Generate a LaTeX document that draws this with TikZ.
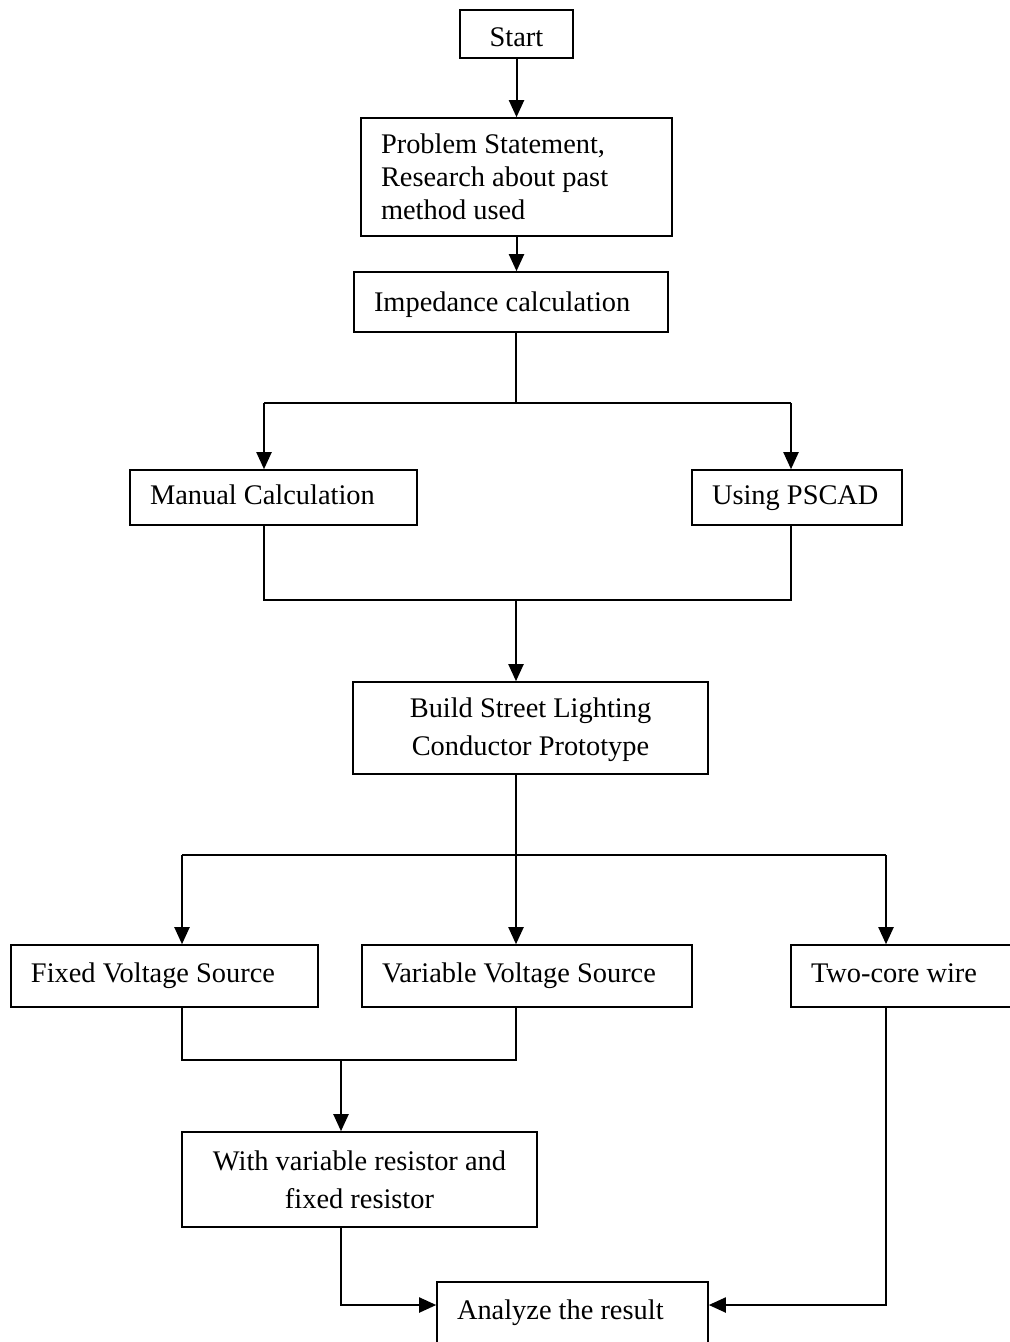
\documentclass[tikz,border=0pt]{standalone}
\usepackage{fontspec}
\setmainfont{Liberation Serif}
\usetikzlibrary{arrows.meta}

\tikzset{
  stage/.style={draw, line width=0.8pt, inner xsep=10pt, inner ysep=0pt,
    align=flush left, font=\fontsize{14.2}{16.5}\selectfont},
  oneline/.style={stage, text height=9.7pt, text depth=3.1pt},
  midstage/.style={stage, align=flush center, font=\fontsize{14.2}{19}\selectfont},
  flow/.style={line width=1pt, -{Triangle[length=8.5pt,width=7.5pt]}},
  link/.style={line width=1pt}
}

\begin{document}
\begin{tikzpicture}[x=0.5pt, y=-0.5pt]
 \useasboundingbox (0,0) rectangle (1010,1342);
 \clip (0,0) rectangle (1010,1342);
 % boxes
 \node at (516.5,34) (start) [oneline, align=flush center, text width=36.5pt, minimum height=24pt, text height=12.8pt, text depth=0pt] {Start};
 \node at (516.5,177) (prob) [stage, text width=135.5pt, minimum height=59pt] {Problem Statement,\\Research about past\\method used};
 \node at (511,302) (imp) [oneline, text width=137pt, minimum height=30pt, text height=11.2pt, text depth=1.6pt] {Impedance calculation};
 \node at (273.5,497.5) (man) [oneline, text width=123.5pt, minimum height=27.5pt] {Manual Calculation};
 \node at (797,497.5) (psc) [oneline, text width=85pt, minimum height=27.5pt] {Using PSCAD};
 \node at (530.5,728) (build) [midstage, text width=157.5pt, minimum height=46pt] {\rule{0pt}{12pt}Build Street Lighting\\Conductor Prototype};
 \node at (164.5,976) (fix) [oneline, text width=133.5pt, minimum height=31pt] {Fixed Voltage Source};
 \node at (527,976) (var) [oneline, text width=145pt, minimum height=31pt] {Variable Voltage Source};
 \node at (915.5,976) (two) [oneline, text width=104.5pt, minimum height=31pt] {Two-core wire};
 \node at (359.5,1179.5) (wres) [midstage, text width=157.5pt, minimum height=47.5pt] {With variable resistor and\\fixed resistor};
 \node at (572.5,1313) (ana) [oneline, text width=115.5pt, minimum height=31pt] {Analyze the result};
 % junctions
 \coordinate (j1) at (516,403); \coordinate (jl) at (264,403); \coordinate (jr) at (791,403);
 \coordinate (k) at (516,600); \coordinate (kl) at (264,600); \coordinate (kr) at (791,600);
 \coordinate (m) at (516,855); \coordinate (ml) at (182,855); \coordinate (mr) at (886,855);
 \coordinate (n) at (341,1060); \coordinate (nl) at (182,1060); \coordinate (nr) at (516,1060);
 \coordinate (p) at (341,1305); \coordinate (q) at (886,1305);
 % top of the chart
 \draw [flow] (start) -- (prob);
 \draw [flow] (prob.south) -- (prob.south |- imp.north);
 % split into the two calculations
 \draw [link] (j1 |- imp.south) -- (j1);
 \draw [link] (jl) -- (jr);
 \draw [flow] (jl) -- (jl |- man.north);
 \draw [flow] (jr) -- (jr |- psc.north);
 % join again
 \draw [link] (kl |- man.south) -- (kl) -- (kr) -- (kr |- psc.south);
 \draw [flow] (k) -- (k |- build.north);
 % three branches
 \draw [link] (m |- build.south) -- (m);
 \draw [link] (ml) -- (mr);
 \draw [flow] (ml) -- (ml |- fix.north);
 \draw [flow] (m) -- (m |- var.north);
 \draw [flow] (mr) -- (mr |- two.north);
 % sources to resistors
 \draw [link] (nl |- fix.south) -- (nl) -- (nr) -- (nr |- var.south);
 \draw [flow] (n) -- (n |- wres.north);
 % into the result
 \draw [flow] (p |- wres.south) -- (p) -- (p -| ana.west);
 \draw [flow] (q |- two.south) -- (q) -- (q -| ana.east);
\end{tikzpicture}
\end{document}
